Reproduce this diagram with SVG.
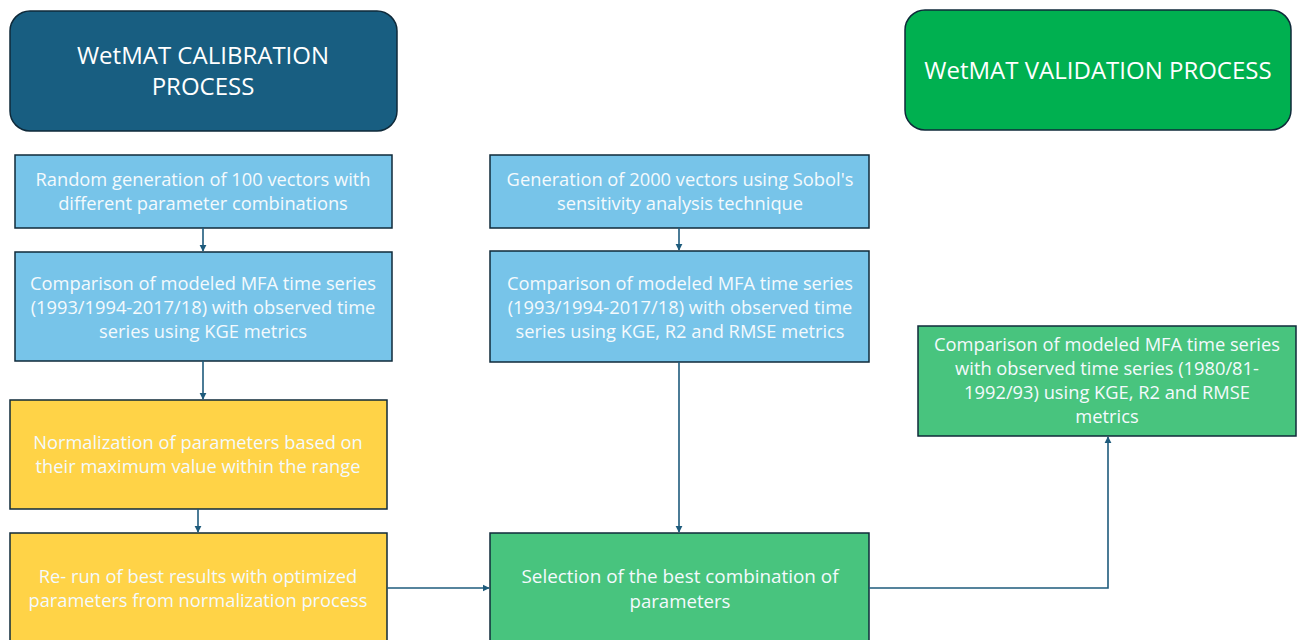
<svg xmlns="http://www.w3.org/2000/svg" width="1299" height="640" viewBox="0 0 1299 640">
<defs>
<marker id="arr" viewBox="0 0 10 10" refX="9" refY="5" markerWidth="4.5" markerHeight="4.5" orient="auto-start-reverse">
<path d="M0,0 L10,5 L0,10 z" fill="#1E5B7C"/>
</marker>
<style>
.box{stroke:#0F2A3A;stroke-width:1.5}
.blue{fill:#77C4E9}
.yellow{fill:#FFD347}
.green{fill:#48C47E}
.t{font-family:"Open Sans","Liberation Sans",sans-serif;font-size:18.3px;fill:#F4FAFD;text-anchor:middle}
.h{font-family:"Open Sans","Liberation Sans",sans-serif;font-size:24px;fill:#FFFFFF;text-anchor:middle}
.n{font-family:"Open Sans","Liberation Sans",sans-serif;font-size:18.5px;fill:#F4FAFD;text-anchor:middle}
.c{fill:none;stroke:#1E5B7C;stroke-width:1.6}
</style>
</defs>
<rect width="1299" height="640" fill="#FFFFFF"/>
<g id="cal-title">
<rect x="10" y="11" width="387" height="120" rx="20" fill="#185E81" stroke="#0F2A3A" stroke-width="1.5"/>
<text class="h" x="203" y="64">WetMAT CALIBRATION</text>
<text class="h" x="203" y="95">PROCESS</text>
</g>
<g id="val-title">
<rect x="905" y="10" width="386" height="120" rx="20" fill="#00B050" stroke="#0F2A3A" stroke-width="1.5"/>
<text class="h" x="1098" y="79">WetMAT VALIDATION PROCESS</text>
</g>
<g id="random-gen">
<rect class="box blue" x="15" y="155" width="377" height="73"/>
<text class="t" x="203" y="186">Random generation of 100 vectors with</text>
<text class="t" x="203" y="210">different parameter combinations</text>
</g>
<g id="compare-kge">
<rect class="box blue" x="15" y="252" width="377" height="109"/>
<text class="t" x="203" y="290">Comparison of modeled MFA time series</text>
<text class="t" x="203" y="314">(1993/1994-2017/18) with observed time</text>
<text class="t" x="203" y="338">series using KGE metrics</text>
</g>
<g id="normalization">
<rect class="box yellow" x="10" y="400" width="377" height="109"/>
<text class="t" x="198" y="449">Normalization of parameters based on</text>
<text class="t" x="198" y="473">their maximum value within the range</text>
</g>
<g id="rerun">
<rect class="box yellow" x="10" y="533" width="377" height="115"/>
<text class="t" x="198" y="583">Re- run of best results with optimized</text>
<text class="t" x="198" y="607">parameters from normalization process</text>
</g>
<g id="sobol-gen">
<rect class="box blue" x="490" y="155" width="379" height="73"/>
<text class="t" x="680" y="186">Generation of 2000 vectors using Sobol's</text>
<text class="t" x="680" y="210">sensitivity analysis technique</text>
</g>
<g id="compare-all">
<rect class="box blue" x="490" y="251" width="379" height="111"/>
<text class="t" x="680" y="290">Comparison of modeled MFA time series</text>
<text class="t" x="680" y="314">(1993/1994-2017/18) with observed time</text>
<text class="t" x="680" y="338">series using KGE, R2 and RMSE metrics</text>
</g>
<g id="selection">
<rect class="box green" x="490" y="533" width="379" height="115"/>
<text class="n" x="680" y="583" textLength="317" lengthAdjust="spacingAndGlyphs">Selection of the best combination of</text>
<text class="n" x="680" y="608" textLength="101" lengthAdjust="spacingAndGlyphs">parameters</text>
</g>
<g id="validation-compare">
<rect class="box green" x="918" y="326" width="378" height="110"/>
<text class="t" x="1107" y="351">Comparison of modeled MFA time series</text>
<text class="t" x="1107" y="375">with observed time series (1980/81-</text>
<text class="t" x="1107" y="399">1992/93) using KGE, R2 and RMSE</text>
<text class="t" x="1107" y="423">metrics</text>
</g>
<g id="connectors">
<path class="c" d="M203,228 V251" marker-end="url(#arr)"/>
<path class="c" d="M203,361 V399" marker-end="url(#arr)"/>
<path class="c" d="M198,509 V532" marker-end="url(#arr)"/>
<path class="c" d="M679,228 V250" marker-end="url(#arr)"/>
<path class="c" d="M679,362 V532" marker-end="url(#arr)"/>
<path class="c" d="M387,588 H489" marker-end="url(#arr)"/>
<path class="c" d="M869,588 H1108 V437" marker-end="url(#arr)"/>
</g>
</svg>
